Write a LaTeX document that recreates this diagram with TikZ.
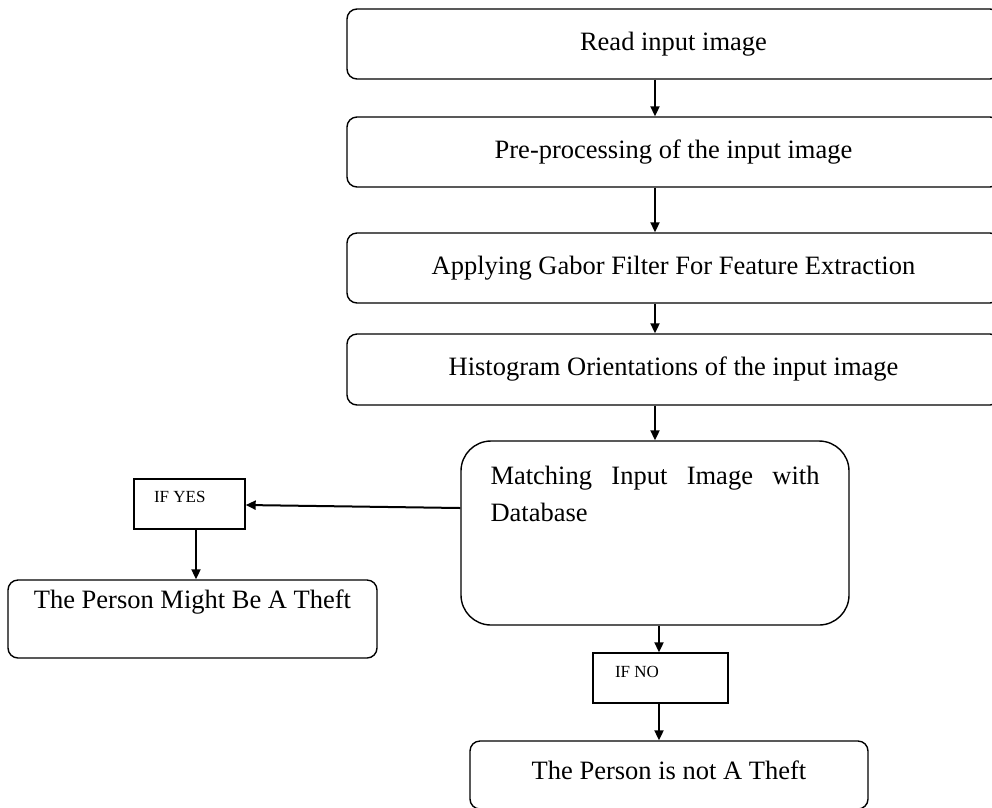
\documentclass[tikz,border=0pt]{standalone}
\usepackage{fontspec}
\setmainfont{Liberation Serif}
\usetikzlibrary{arrows.meta}
\begin{document}
\begin{tikzpicture}[x=1pt,y=-1pt,
  box/.style={draw, line width=1.4pt, rounded corners=10pt, inner sep=0pt},
  sqbox/.style={draw, line width=1.4pt, inner sep=0pt},
  arr/.style={line width=2pt, -{Triangle[length=10pt,width=9pt]}},
  big/.style={font=\fontsize{26.5}{37}\selectfont},
  small/.style={font=\fontsize{17}{20}\selectfont}]
\useasboundingbox (0,0) rectangle (992,807);
\coordinate (ctop) at (655,0);
\coordinate (cno) at (659,0);
\coordinate (cyes) at (196,0);
% top chain
\node[box, big, minimum width=653pt, minimum height=70pt] (b1) at (673.5,44) {Read input image};
\node[box, big, minimum width=653pt, minimum height=70pt] (b2) at (673.5,152) {Pre-processing of the input image};
\node[box, big, minimum width=653pt, minimum height=70pt] (b3) at (673.5,268) {Applying Gabor Filter For Feature Extraction};
\node[box, big, minimum width=653pt, minimum height=71pt] (b4) at (673.5,369.5) {Histogram Orientations of the input image};
% matching
\node[box, big, rounded corners=30pt, minimum width=388pt, minimum height=184pt] (m) at (655,533)
  {\parbox[c][184pt][t]{329pt}{\vspace*{25pt}Matching Input Image with Database}};
% yes branch
\node[sqbox, small, minimum width=111pt, minimum height=50pt] (yes) at (189.5,504)
  {\parbox[c][50pt][t]{111pt}{\vspace*{12pt}\hspace*{20pt}IF YES}};
\node[box, big, minimum width=369pt, minimum height=78pt] (theft) at (192.5,619)
  {\parbox[c][78pt][t]{369pt}{\centering\vspace*{10pt}The Person Might Be A Theft}};
% no branch
\node[sqbox, small, minimum width=135pt, minimum height=50pt] (no) at (660.5,678)
  {\parbox[c][50pt][t]{135pt}{\vspace*{13pt}\hspace*{22pt}IF NO}};
\node[box, big, minimum width=398pt, minimum height=68pt] (nottheft) at (669,775)
  {\parbox[c][68pt][t]{398pt}{\centering\vspace*{20pt}The Person is not A Theft}};
% connectors
\draw[arr] (b1.south -| ctop) -- (b2.north -| ctop);
\draw[arr] (b2.south -| ctop) -- (b3.north -| ctop);
\draw[arr] (b3.south -| ctop) -- (b4.north -| ctop);
\draw[arr] (b4.south -| ctop) -- (m.north -| ctop);
\draw[arr] ([yshift=25pt]m.west) -- ([yshift=-1pt]yes.east);
\draw[arr] (yes.south -| cyes) -- (theft.north -| cyes);
\draw[arr] (m.south -| cno) -- (no.north -| cno);
\draw[arr] (no.south -| cno) -- (nottheft.north -| cno);
\end{tikzpicture}
\end{document}
